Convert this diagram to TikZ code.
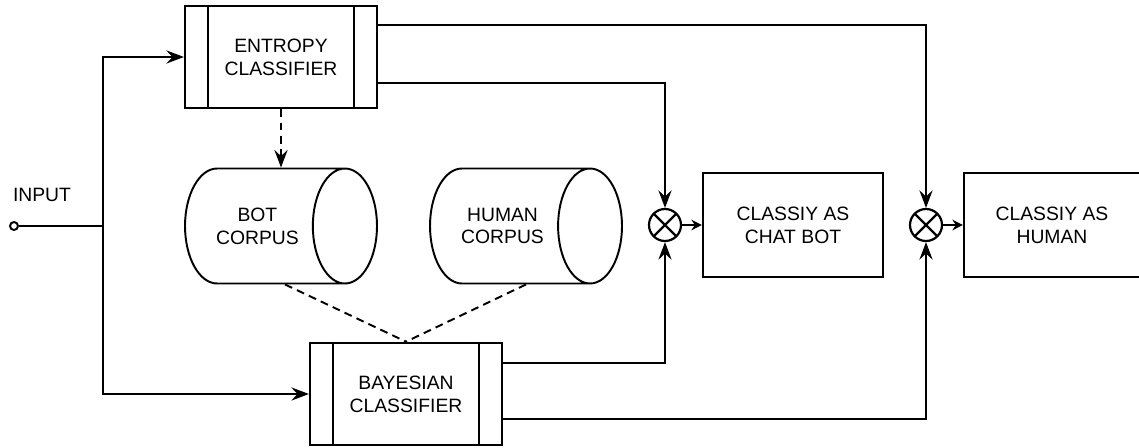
\documentclass[tikz,border=0pt]{standalone}
\usepackage{fontspec}
\setmainfont{Liberation Sans}
\usetikzlibrary{positioning,arrows.meta,shapes.geometric}
\tikzset{
  base/.style={line width=1.25pt, align=center, font=\fontsize{11}{13}\selectfont},
  proceso/.style={base, rectangle, draw, minimum width=3.84cm, minimum height=2.05cm},
  salida/.style={base, rectangle, draw, minimum width=3.6cm, minimum height=2.08cm},
  corpus/.style={base, cylinder, draw, line width=1.1pt, shape aspect=1.33,
    minimum height=3.84cm, minimum width=2.3cm, anchor=shape center},
  mezcla/.style={circle, draw, line width=1.25pt, minimum size=0.64cm, inner sep=0pt,
    path picture={\draw[line width=1.25pt] (path picture bounding box.north west) -- (path picture bounding box.south east)
      (path picture bounding box.north east) -- (path picture bounding box.south west);}},
  flecha/.style={-{Stealth[length=10pt, width=7.5pt, inset=3.5pt]}, line width=1.25pt},
  flechac/.style={-{Stealth[length=6pt, width=6pt, inset=2pt]}, line width=1.7pt},
  punteada/.style={line width=1.1pt, dash pattern=on 4.5pt off 3pt},
}

\begin{document}
\begin{tikzpicture}[x=0.02cm, y=-0.02cm]
  \useasboundingbox (0,0) rectangle (1139,447);
  % nodos
  \node[proceso] (entropy) at (281,57) {ENTROPY\\CLASSIFIER};
  \node[proceso] (bayes) at (406,394) {BAYESIAN\\CLASSIFIER};
  \node[corpus] (bot) at (281,226) {BOT\\CORPUS};
  \node[corpus] (human) at (526,226) {HUMAN\\CORPUS};
  \node[mezcla] (x1) at (665,225) {};
  \node[mezcla] (x2) at (926,225) {};
  \node[salida] (chatbot) at (793,225) {CLASSIY AS\\CHAT BOT};
  \node[salida, minimum width=3.52cm] (humano) at (1052,225) {CLASSIY AS\\HUMAN};
  \node[circle, draw, line width=1.1pt, minimum size=0.16cm, inner sep=0pt] (inp) at (14,226) {};
  \node[base] (inlbl) at (42,195) {INPUT};
  \coordinate (bus) at (103,226);
  % barras laterales
  \foreach \n in {entropy,bayes} {
    \draw[line width=1.25pt] ([xshift=0.48cm]\n.north west) -- ([xshift=0.48cm]\n.south west);
    \draw[line width=1.25pt] ([xshift=-0.48cm]\n.north east) -- ([xshift=-0.48cm]\n.south east);
  }
  % conexiones
  \draw[line width=1.25pt] (inp) -- (bus);
  \draw[flecha] (bus) |- (entropy.west);
  \draw[flecha] (bus) |- (bayes.west);
  \draw[flecha, punteada] (entropy.south) -- (entropy.south |- bot.north);
  \draw[punteada] ([xshift=0.08cm]bot.shape center |- bot.south) -- (bayes.north);
  \draw[punteada] (human.shape center |- human.south) -- (bayes.north);
  \draw[flecha] ([yshift=-0.52cm]entropy.east) -| (x1.north);
  \draw[flecha] ([yshift=0.64cm]entropy.east) -| (x2.north);
  \draw[flecha] ([yshift=0.62cm]bayes.east) -| (x1.south);
  \draw[flecha] ([yshift=-0.5cm]bayes.east) -| (x2.south);
  \draw[flechac] (x1) -- (chatbot);
  \draw[flechac] (x2) -- (humano);
\end{tikzpicture}
\end{document}
